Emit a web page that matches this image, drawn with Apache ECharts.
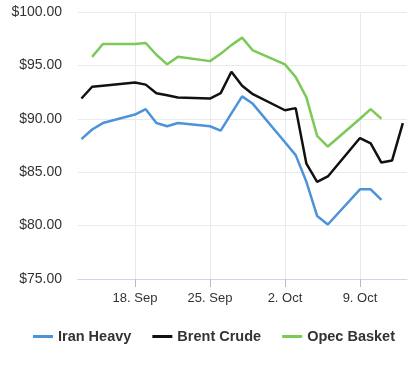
<!DOCTYPE html>
<html><head><meta charset="utf-8">
<script src="https://cdn.jsdelivr.net/npm/echarts@6/dist/echarts.min.js"></script>
<style>html,body{margin:0;padding:0;background:#fff}#c{width:418px;height:369px}</style>
</head><body><div id="c"></div>
<script>
// Trading days shown on the chart
const dates = ['2023-09-13','2023-09-14','2023-09-15','2023-09-18','2023-09-19','2023-09-20','2023-09-21','2023-09-22',
  '2023-09-25','2023-09-26','2023-09-27','2023-09-28','2023-09-29','2023-10-02','2023-10-03','2023-10-04',
  '2023-10-05','2023-10-06','2023-10-09','2023-10-10','2023-10-11','2023-10-12','2023-10-13'];
const iranHeavy  = [88.1, 89.0, 89.6, 90.4, 90.9, 89.6, 89.3, 89.6, 89.3, 88.9, 90.5, 92.1, 91.4, 87.8, 86.6, 84.1, 80.9, 80.1, 83.4, 83.4, 82.4, null, null];
const brentCrude = [91.9, 93.0, 93.1, 93.4, 93.2, 92.4, 92.2, 92.0, 91.9, 92.4, 94.4, 93.1, 92.3, 90.8, 91.0, 85.8, 84.1, 84.6, 88.2, 87.7, 85.9, 86.1, 89.6];
const opecBasket = [null, 95.8, 97.0, 97.0, 97.1, 96.0, 95.1, 95.8, 95.4, 96.1, 96.9, 97.6, 96.4, 95.1, 93.9, 92.0, 88.4, 87.4, 90.0, 90.9, 90.0, null, null];
const seriesNames = ['Iran Heavy', 'Brent Crude', 'Opec Basket'];
const tickDates = ['2023-09-18','2023-09-25','2023-10-02','2023-10-09'];
const xRange = ['2023-09-12T16:19', '2023-10-13T09:21'];
const yTicks = [75, 80, 85, 90, 95, 100];

const BASE = Date.UTC(2023, 8, 4);
const DAY = 86400000;
const MONTHS = ['Jan','Feb','Mar','Apr','May','Jun','Jul','Aug','Sep','Oct','Nov','Dec'];
function dayIndex(s) {
  const t = Date.parse(s.length === 10 ? s + 'T00:00Z' : s + 'Z');
  return (t - BASE) / DAY;
}
function pairs(vals) {
  return dates.map((d, i) => [dayIndex(d), vals[i]]);
}
const tickVals = tickDates.map(dayIndex);
const font = '"Liberation Sans", Arial, sans-serif';

const chart = echarts.init(document.getElementById('c'), null, {renderer: 'canvas'});
chart.setOption({
  animation: false,
  backgroundColor: '#fff',
  color: ['#4d93d9', '#111111', '#7cc957'],
  grid: {left: 78, right: 11, top: 12, bottom: 90, containLabel: false},
  xAxis: {
    type: 'value',
    min: dayIndex(xRange[0]),
    max: dayIndex(xRange[1]),
    axisLine: {show: true, lineStyle: {color: '#ccd6eb', width: 1}},
    axisTick: {show: true, length: 8, customValues: tickVals, lineStyle: {color: '#bbbbbb'}},
    splitLine: {show: true, lineStyle: {color: '#eaeaea', width: 1}},
    axisLabel: {
      customValues: tickVals,
      margin: 13,
      color: '#333',
      fontSize: 13,
      fontFamily: font,
      formatter: function (v) {
        const d = new Date(BASE + Math.round(v) * DAY);
        return d.getUTCDate() + '. ' + MONTHS[d.getUTCMonth()];
      }
    }
  },
  yAxis: {
    type: 'value',
    min: yTicks[0],
    max: yTicks[yTicks.length - 1],
    interval: yTicks[1] - yTicks[0],
    axisLine: {show: false},
    axisTick: {show: false},
    splitLine: {show: true, lineStyle: {color: '#eaeaea', width: 1}},
    axisLabel: {
      margin: 16,
      color: '#333',
      fontSize: 14,
      fontFamily: font,
      formatter: v => '$' + v.toFixed(2)
    }
  },
  legend: {
    data: seriesNames,
    icon: 'rect',
    itemWidth: 20,
    itemHeight: 3,
    itemGap: 21,
    left: 28,
    top: 324,
    textStyle: {fontSize: 14.5, fontWeight: 'bold', color: '#333', fontFamily: font}
  },
  series: [iranHeavy, brentCrude, opecBasket].map((vals, i) => ({
    name: seriesNames[i],
    type: 'line',
    data: pairs(vals),
    showSymbol: false,
    symbol: 'none',
    connectNulls: false,
    lineStyle: {width: 2.5},
    emphasis: {disabled: true}
  }))
});
</script>
</body></html>
